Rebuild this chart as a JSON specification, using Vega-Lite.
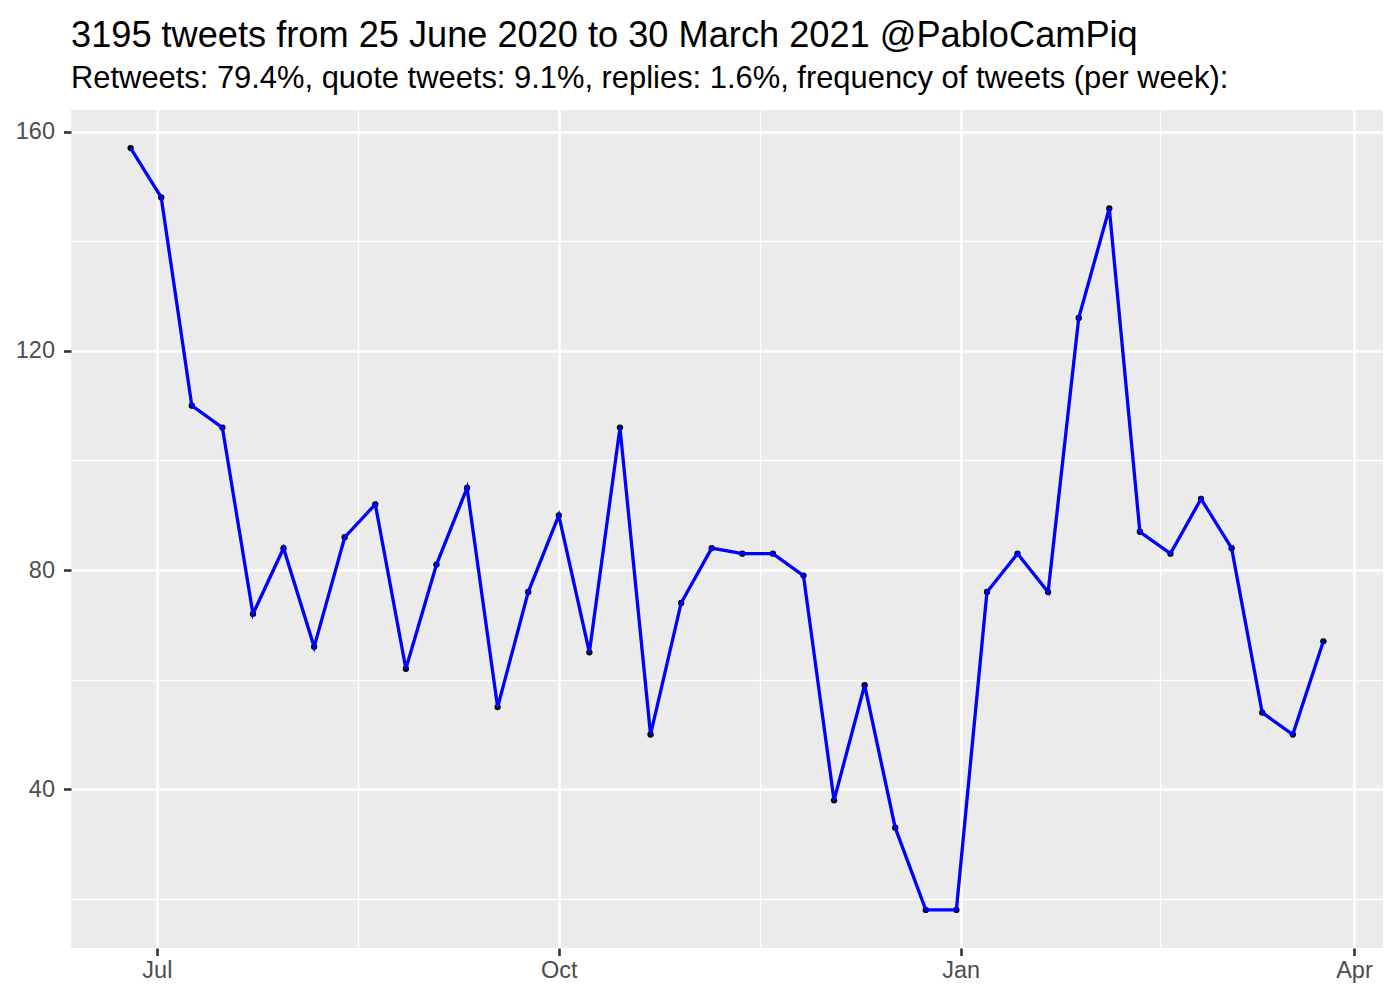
{
  "$schema": "https://vega.github.io/schema/vega-lite/v6.json",
  "width": 1312,
  "height": 838,
  "autosize": {"type": "none"},
  "padding": {"left": 71, "top": 110, "right": 17, "bottom": 52},
  "background": "white",
  "title": {
    "text": "3195 tweets from 25 June 2020 to 30 March 2021 @PabloCamPiq",
    "subtitle": "Retweets: 79.4%, quote tweets: 9.1%, replies: 1.6%, frequency of tweets (per week):",
    "anchor": "start",
    "frame": "group",
    "font": "Liberation Sans",
    "fontSize": 36.2,
    "fontWeight": "normal",
    "color": "black",
    "subtitleFont": "Liberation Sans",
    "subtitleFontSize": 30.9,
    "subtitleColor": "black",
    "subtitlePadding": 10,
    "offset": 16
  },
  "config": {
    "view": {"fill": "#EBEBEB", "stroke": null},
    "axis": {
      "labelFont": "Liberation Sans",
      "labelFontSize": 23.5,
      "labelColor": "#4D4D4D",
      "domain": false,
      "tickSize": 7.5,
      "gridColor": "white",
      "title": null
    }
  },
  "data": {
    "values": [
      {"week": "2020-06-25", "tweets": 157},
      {"week": "2020-07-02", "tweets": 148},
      {"week": "2020-07-09", "tweets": 110},
      {"week": "2020-07-16", "tweets": 106},
      {"week": "2020-07-23", "tweets": 72},
      {"week": "2020-07-30", "tweets": 84},
      {"week": "2020-08-06", "tweets": 66},
      {"week": "2020-08-13", "tweets": 86},
      {"week": "2020-08-20", "tweets": 92},
      {"week": "2020-08-27", "tweets": 62},
      {"week": "2020-09-03", "tweets": 81},
      {"week": "2020-09-10", "tweets": 95},
      {"week": "2020-09-17", "tweets": 55},
      {"week": "2020-09-24", "tweets": 76},
      {"week": "2020-10-01", "tweets": 90},
      {"week": "2020-10-08", "tweets": 65},
      {"week": "2020-10-15", "tweets": 106},
      {"week": "2020-10-22", "tweets": 50},
      {"week": "2020-10-29", "tweets": 74},
      {"week": "2020-11-05", "tweets": 84},
      {"week": "2020-11-12", "tweets": 83},
      {"week": "2020-11-19", "tweets": 83},
      {"week": "2020-11-26", "tweets": 79},
      {"week": "2020-12-03", "tweets": 38},
      {"week": "2020-12-10", "tweets": 59},
      {"week": "2020-12-17", "tweets": 33},
      {"week": "2020-12-24", "tweets": 18},
      {"week": "2020-12-31", "tweets": 18},
      {"week": "2021-01-07", "tweets": 76},
      {"week": "2021-01-14", "tweets": 83},
      {"week": "2021-01-21", "tweets": 76},
      {"week": "2021-01-28", "tweets": 126},
      {"week": "2021-02-04", "tweets": 146},
      {"week": "2021-02-11", "tweets": 87},
      {"week": "2021-02-18", "tweets": 83},
      {"week": "2021-02-25", "tweets": 93},
      {"week": "2021-03-04", "tweets": 84},
      {"week": "2021-03-11", "tweets": 54},
      {"week": "2021-03-18", "tweets": 50},
      {"week": "2021-03-25", "tweets": 67}
    ]
  },
  "encoding": {
    "x": {
      "field": "week",
      "type": "temporal",
      "scale": {
        "type": "utc",
        "domain": [
          {"year": 2020, "month": 6, "date": 11, "hours": 8, "minutes": 24, "utc": true},
          {"year": 2021, "month": 4, "date": 7, "hours": 15, "minutes": 36, "utc": true}
        ]
      },
      "axis": {
        "values": [
          {"year": 2020, "month": 7, "date": 1, "utc": true},
          {"year": 2020, "month": 8, "date": 16, "utc": true},
          {"year": 2020, "month": 10, "date": 1, "utc": true},
          {"year": 2020, "month": 11, "date": 16, "utc": true},
          {"year": 2021, "month": 1, "date": 1, "utc": true},
          {"year": 2021, "month": 2, "date": 15, "hours": 12, "utc": true},
          {"year": 2021, "month": 4, "date": 1, "utc": true}
        ],
        "labelExpr": "utcmonth(datum.value) % 3 == 0 ? utcFormat(datum.value, '%b') : ''",
        "gridWidth": {"condition": {"test": "utcmonth(datum.value) % 3 == 0", "value": 2.6}, "value": 1.3},
        "tickColor": {"condition": {"test": "utcmonth(datum.value) % 3 == 0", "value": "#333333"}, "value": "transparent"},
        "tickWidth": 2.6,
        "labelPadding": 3,
        "labelFlush": false,
        "labelOverlap": false
      }
    },
    "y": {
      "field": "tweets",
      "type": "quantitative",
      "scale": {"domain": [11.05, 163.95], "nice": false, "zero": false},
      "axis": {
        "values": [20, 40, 60, 80, 100, 120, 140, 160],
        "labelExpr": "datum.value % 40 == 0 ? datum.label : ''",
        "gridWidth": {"condition": {"test": "datum.value % 40 == 0", "value": 2.6}, "value": 1.3},
        "tickColor": {"condition": {"test": "datum.value % 40 == 0", "value": "#333333"}, "value": "transparent"},
        "tickWidth": 2.6,
        "labelPadding": 9,
        "labelOverlap": false
      }
    }
  },
  "layer": [
    {"mark": {"type": "circle", "color": "black", "size": 40, "opacity": 1}},
    {"mark": {"type": "line", "color": "#0000FF", "strokeWidth": 3.3}}
  ]
}
